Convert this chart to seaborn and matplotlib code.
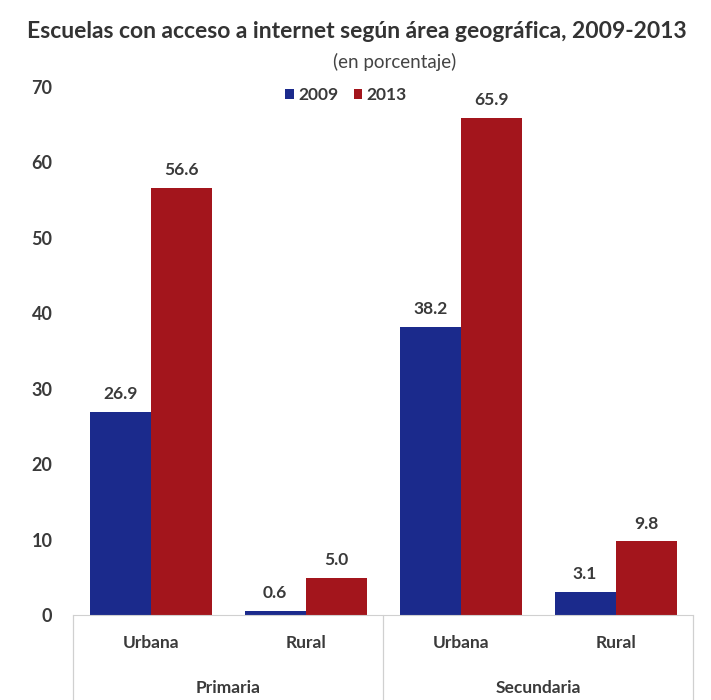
import pandas as pd
import matplotlib.pyplot as plt
import matplotlib.transforms as mtransforms
import seaborn as sns

# Data
niveles = ['Primaria', 'Primaria', 'Secundaria', 'Secundaria']
areas = ['Urbana', 'Rural', 'Urbana', 'Rural']
valores_2009 = [26.9, 0.6, 38.2, 3.1]
valores_2013 = [56.6, 5.0, 65.9, 9.8]
anios = ['2009', '2013']

cats = [f'{n}|{a}' for n, a in zip(niveles, areas)]
df = pd.DataFrame({
    'cat': cats * 2,
    'anio': [anios[0]] * 4 + [anios[1]] * 4,
    'valor': valores_2009 + valores_2013,
})

sns.set_style('white')
plt.rcParams['font.family'] = ['Lato', 'DejaVu Sans']
txt = '#3a3a3a'

fig = plt.figure(figsize=(7.11, 7.0), dpi=100)
ax = fig.add_axes([0.103, 0.121, 0.872, 0.755])

sns.barplot(data=df, x='cat', y='valor', hue='anio', order=cats,
            palette={'2009': '#1b2a8c', '2013': '#a3151c'},
            width=0.79, saturation=1, linewidth=0, ax=ax)

for cont in ax.containers:
    ax.bar_label(cont, fmt='%.1f', padding=7, fontsize=12.5,
                 fontweight='bold', color=txt)

ax.set_ylim(0, 70)
ax.set_xlim(-0.5, 3.5)
ax.set_yticks(range(0, 71, 10))
ax.tick_params(axis='y', length=0, pad=15, labelsize=13, labelcolor=txt)
for t in ax.get_yticklabels():
    t.set_fontweight('bold')
ax.set_xticks(range(4))
ax.set_xticklabels(areas, fontsize=12.5, fontweight='bold', color=txt)
ax.tick_params(axis='x', length=0, pad=14)
ax.set_xlabel('')
ax.set_ylabel('')
for s in ['top', 'right', 'left']:
    ax.spines[s].set_visible(False)
ax.spines['bottom'].set_color('#d0d0d0')

# group labels and separators
trans = mtransforms.blended_transform_factory(ax.transData, ax.transAxes)
for pos, name in [(0.5, 'Primaria'), (2.5, 'Secundaria')]:
    ax.text(pos, -0.138, name, transform=trans, ha='center', va='center',
            fontsize=12.5, fontweight='bold', color=txt)
for xv in [-0.5, 1.5, 3.5]:
    ax.plot([xv, xv], [0, -0.2], transform=trans, color='#d0d0d0',
            lw=0.9, clip_on=False)

leg = ax.legend(loc='center', bbox_to_anchor=(0.44, 0.985), ncol=2,
                frameon=False, handlelength=0.5, handleheight=0.5,
                handletextpad=0.25, columnspacing=0.9, fontsize=12.5)
for t in leg.get_texts():
    t.set_fontweight('bold')
    t.set_color(txt)

fig.text(0.502, 0.955, 'Escuelas con acceso a internet según área geográfica, 2009-2013',
         ha='center', va='center', fontsize=16.5, fontweight='bold', color='#333333')
fig.text(0.555, 0.911, '(en porcentaje)', ha='center', va='center',
         fontsize=13.5, color='#444444')

fig.savefig('out.png', dpi=100)
